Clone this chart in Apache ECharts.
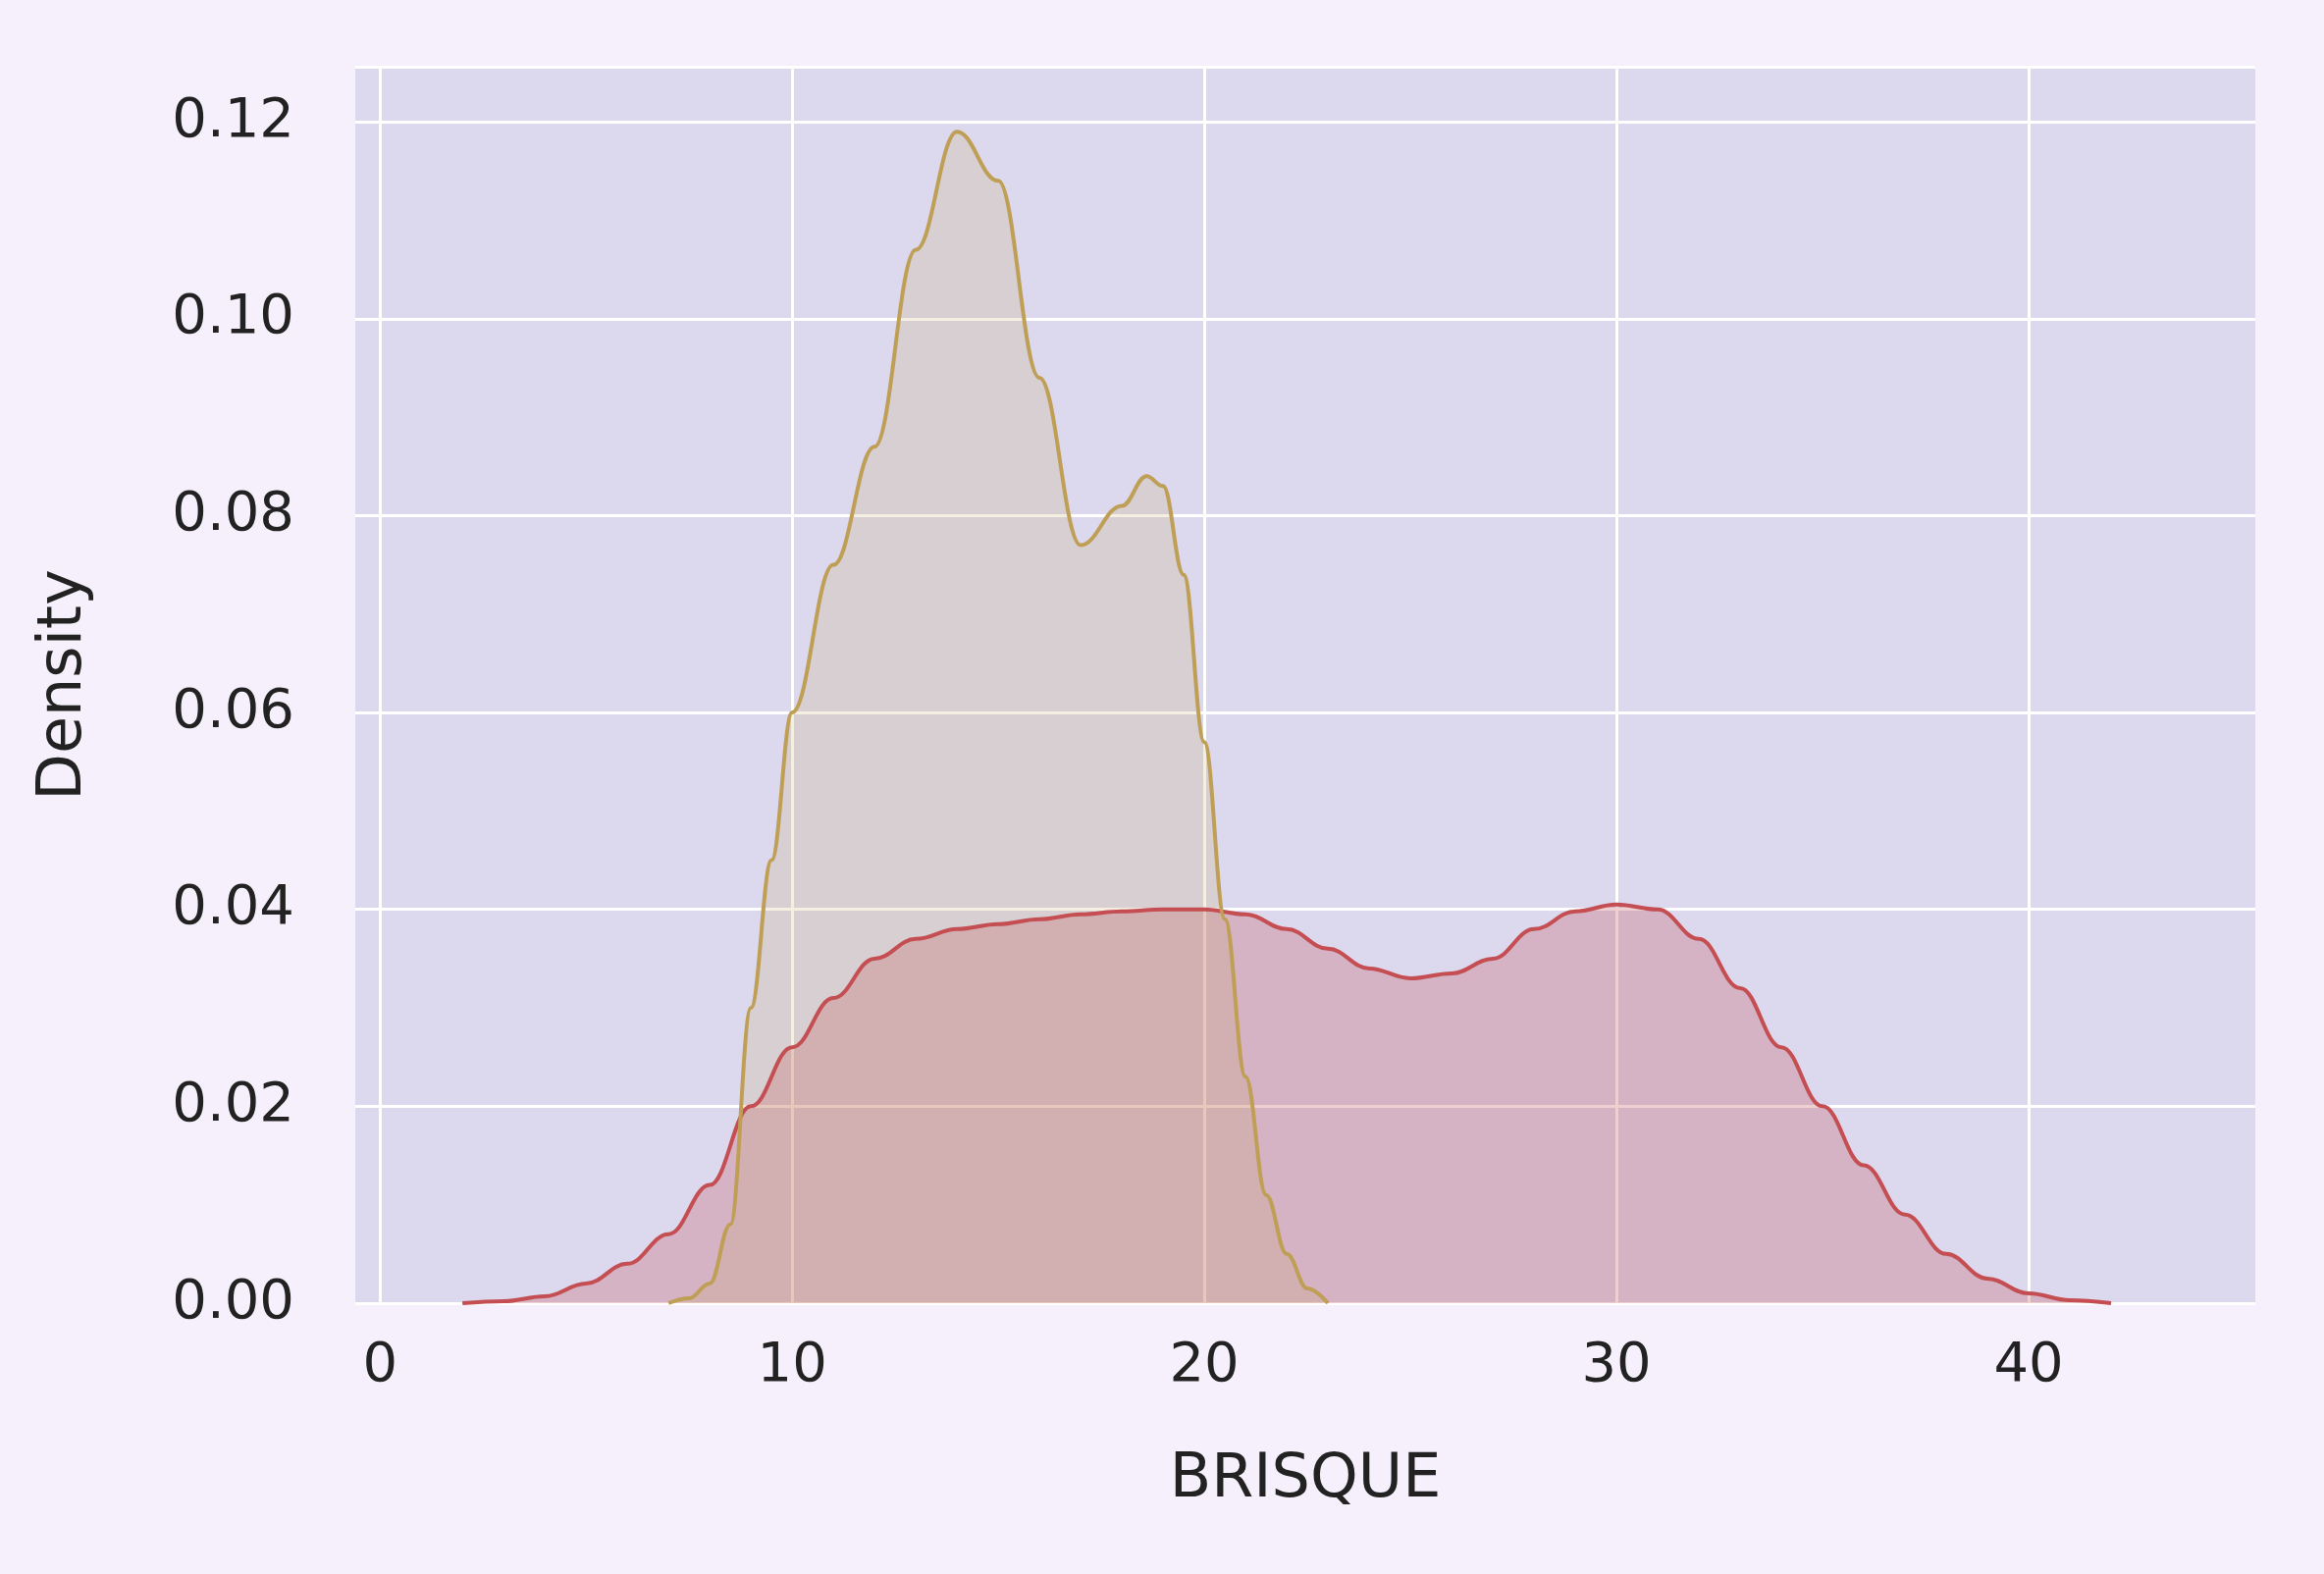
<!DOCTYPE html>
<html>
<head>
<meta charset="UTF-8">
<script src="https://cdn.jsdelivr.net/npm/echarts@6/dist/echarts.min.js"></script>
<style>
  html, body { margin: 0; background: #fff; }
  #main { width: 2368px; height: 1604px; }
</style>
</head>
<body>
<div id="main"></div>
<script>
  // KDE curves: [BRISQUE, density]
  const goldCurve = [
    [7, 0], [7.5, 0.0005], [8, 0.002], [8.5, 0.008], [9, 0.03], [9.5, 0.045], [10, 0.06],
    [11, 0.075], [12, 0.087], [13, 0.107], [14, 0.119], [15, 0.114], [16, 0.094],
    [17, 0.077], [18, 0.081], [18.6, 0.084], [19, 0.083], [19.5, 0.074], [20, 0.057],
    [20.5, 0.039], [21, 0.023], [21.5, 0.011], [22, 0.005], [22.5, 0.0015], [23, 0]
  ]
  const redCurve = [
    [2, 0], [3, 0.0002], [4, 0.0007], [5, 0.002], [6, 0.004], [7, 0.007], [8, 0.012],
    [9, 0.02], [10, 0.026], [11, 0.031], [12, 0.035], [13, 0.037], [14, 0.038],
    [15, 0.0385], [16, 0.039], [17, 0.0395], [18, 0.0398], [19, 0.04], [20, 0.04],
    [21, 0.0395], [22, 0.038], [23, 0.036], [24, 0.034], [25, 0.033], [26, 0.0335],
    [27, 0.035], [28, 0.038], [29, 0.0398], [30, 0.0405], [31, 0.04], [32, 0.037],
    [33, 0.032], [34, 0.026], [35, 0.02], [36, 0.014], [37, 0.009], [38, 0.005],
    [39, 0.0025], [40, 0.001], [41, 0.0003], [42, 0]
  ]
  const xTicks = [0, 10, 20, 30, 40]

  const font = 'DejaVu Sans'
  const chart = echarts.init(document.getElementById('main'))
  chart.setOption({
    backgroundColor: '#f6f0fc',
    grid: { left: 362, right: 70, top: 68, bottom: 276, show: true, backgroundColor: '#dcd8ed', borderWidth: 0 },
    xAxis: {
      type: 'value', min: -0.6, max: 45.5,
      name: 'BRISQUE', nameLocation: 'middle', nameGap: 150,
      nameTextStyle: { fontSize: 62, color: '#222', fontFamily: font },
      axisLine: { show: false }, axisTick: { show: false, customValues: xTicks },
      axisLabel: { customValues: xTicks, fontSize: 56, color: '#222', margin: 36, fontFamily: font },
      splitLine: { show: true, lineStyle: { color: '#fff', width: 3 } }
    },
    yAxis: {
      type: 'value', min: 0, max: 0.1256, interval: 0.02,
      name: 'Density', nameLocation: 'middle', nameGap: 265,
      nameTextStyle: { fontSize: 62, color: '#222', fontFamily: font },
      axisLine: { show: false }, axisTick: { show: false },
      axisLabel: { fontSize: 56, color: '#222', margin: 62, fontFamily: font,
        showMaxLabel: false, formatter: v => v.toFixed(2) },
      splitLine: { show: true, lineStyle: { color: '#fff', width: 3 } }
    },
    series: [
      {
        type: 'line', data: redCurve, smooth: 0.4, smoothMonotone: 'x', symbol: 'none',
        lineStyle: { color: '#c44e52', width: 4 },
        areaStyle: { color: 'rgba(196,78,82,0.38)' }
      },
      {
        type: 'line', data: goldCurve, smooth: 0.4, smoothMonotone: 'x', symbol: 'none',
        lineStyle: { color: '#bf9f55', width: 4 },
        areaStyle: { color: 'rgba(196,165,90,0.25)' }
      }
    ]
  })
</script>
</body>
</html>
